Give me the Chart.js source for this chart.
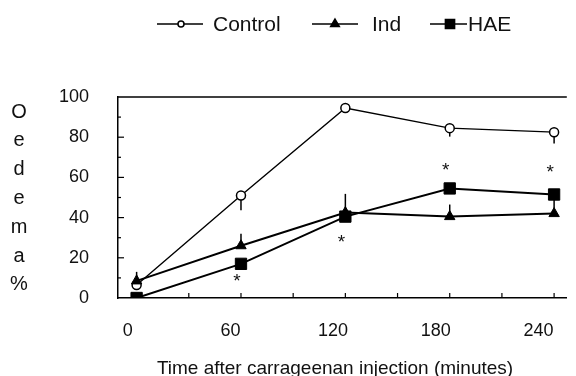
<!DOCTYPE html>
<html><head><meta charset="utf-8">
<script src="https://cdn.jsdelivr.net/npm/chart.js@4/dist/chart.umd.min.js"></script>
<style>html,body{margin:0;padding:0;background:#fff}#wrap{width:576px;height:376px}</style>
</head><body><div id="wrap"><canvas id="c" width="576" height="376"></canvas></div>
<script>
// ---- data ----
const timePoints = [0, 60, 120, 180, 240];
const xTickLabels = [0, 60, 120, 180, 240];
const xMinorTicks = [30, 60, 90, 120, 150, 180, 210, 240];
const yTickValues = [0, 20, 40, 60, 80, 100];
const yMinorTicks = [10, 20, 30, 40, 50, 60, 70, 80, 90];
const controlValues = [6.5, 51, 94.5, 84.5, 82.5];
const indValues = [8.5, 26, 42.5, 40.5, 42];
const haeValues = [0, 17, 40.5, 54.5, 51.5];
const controlErrors = [0, 7.4, 0, 4.2, 5.6];   // drawn downward
const indErrors = [4.5, 6, 9.3, 6, 0];          // drawn upward
const haeErrors = [0, 0, 0, 0, 7];              // drawn downward
const haeSignificant = [false, true, true, true, true];
const seriesNames = ['Control', 'Ind', 'HAE'];
const yTitle = 'Oedema%';
const xTitle = 'Time after carrageenan injection (minutes)';

const FONT = "'Liberation Sans', Arial, sans-serif";
const INK = '#111';

const toPts = vals => timePoints.map((t, i) => ({x: t, y: vals[i]}));

const errorBars = {
  id: 'errorBars',
  beforeDatasetsDraw(chart) {
    const ctx = chart.ctx, y = chart.scales.y;
    ctx.save();
    ctx.strokeStyle = '#000';
    ctx.lineWidth = 1.5;
    chart.data.datasets.forEach((ds, di) => {
      const meta = chart.getDatasetMeta(di);
      ds.errors.forEach((e, i) => {
        if (!e) return;
        const p = meta.data[i];
        const v = ds.data[i].y + ds.errDir * e;
        ctx.beginPath();
        ctx.moveTo(p.x, p.y);
        ctx.lineTo(p.x, y.getPixelForValue(v));
        ctx.stroke();
      });
    });
    ctx.restore();
  }
};

const sigOffsets = [0, 14, 22, -22, -26];
const asterisks = {
  id: 'asterisks',
  afterDatasetsDraw(chart) {
    const ctx = chart.ctx;
    const meta = chart.getDatasetMeta(2);
    ctx.save();
    ctx.fillStyle = INK;
    ctx.font = '19px ' + FONT;
    ctx.textAlign = 'center';
    ctx.textBaseline = 'middle';
    haeSignificant.forEach((s, i) => {
      if (!s) return;
      const p = meta.data[i];
      ctx.fillText('*', p.x - 4, p.y + sigOffsets[i] + 4);
    });
    ctx.restore();
  }
};

const frame = {
  id: 'frame',
  afterDraw(chart) {
    const ctx = chart.ctx, a = chart.chartArea, x = chart.scales.x, y = chart.scales.y;
    ctx.save();
    ctx.strokeStyle = '#000';
    ctx.lineWidth = 1.5;
    ctx.beginPath();
    ctx.moveTo(a.left, a.top);
    ctx.lineTo(a.right, a.top);
    ctx.stroke();
    ctx.lineWidth = 1.2;
    yMinorTicks.forEach(v => {
      const py = y.getPixelForValue(v);
      const len = (v % 20 === 0) ? 6 : 3;
      ctx.beginPath();
      ctx.moveTo(a.left - 1, py);
      ctx.lineTo(a.left + len, py);
      ctx.stroke();
    });
    xMinorTicks.forEach(v => {
      const px = x.getPixelForValue(v);
      ctx.beginPath();
      ctx.moveTo(px, a.bottom);
      ctx.lineTo(px, a.bottom - 5);
      ctx.stroke();
    });
    ctx.fillStyle = INK;
    // x title
    ctx.font = '19px ' + FONT;
    ctx.textAlign = 'center';
    ctx.textBaseline = 'alphabetic';
    ctx.fillText(xTitle, 335, 374);
    // stacked y title
    ctx.font = '20px ' + FONT;
    ctx.textBaseline = 'middle';
    [...yTitle].forEach((ch, i) => ctx.fillText(ch, 19, 112 + i * 28.8));
    ctx.restore();
  }
};

const legendPos = [
  {x1: 157, x2: 203, m: 181, t: 213},
  {x1: 312, x2: 358, m: 335, t: 372},
  {x1: 430, x2: 467, m: 450, t: 468}
];
const legendPlugin = {
  id: 'customLegend',
  afterDraw(chart) {
    const ctx = chart.ctx;
    const ly = 24;
    ctx.save();
    chart.data.datasets.forEach((ds, i) => {
      const L = legendPos[i];
      ctx.strokeStyle = '#000';
      ctx.lineWidth = 1.5;
      ctx.beginPath();
      ctx.moveTo(L.x1, ly); ctx.lineTo(L.x2, ly); ctx.stroke();
      ctx.fillStyle = ds.pointBackgroundColor;
      ctx.strokeStyle = '#000';
      ctx.lineWidth = 1.5;
      Chart.helpers.drawPoint(ctx, {pointStyle: ds.pointStyle, radius: ds.legendRadius, rotation: 0, borderWidth: 1.5}, L.m, ly);
      ctx.fillStyle = INK;
      ctx.font = '21px ' + FONT;
      ctx.textAlign = 'left';
      ctx.textBaseline = 'middle';
      ctx.fillText(seriesNames[i], L.t, ly + 1);
    });
    ctx.restore();
  }
};

new Chart(document.getElementById('c'), {
  type: 'line',
  data: {
    datasets: [
      {label: seriesNames[0], data: toPts(controlValues), borderColor: '#000', borderWidth: 1.4,
       pointStyle: 'circle', pointRadius: 4.5, pointBackgroundColor: '#fff', pointBorderColor: '#000', pointBorderWidth: 1.5,
       errors: controlErrors, errDir: -1, legendRadius: 3, order: 3},
      {label: seriesNames[1], data: toPts(indValues), borderColor: '#000', borderWidth: 2,
       pointStyle: 'triangle', pointRadius: 6, pointBackgroundColor: '#000', pointBorderColor: '#000', pointBorderWidth: 1,
       errors: indErrors, errDir: 1, legendRadius: 5, order: 2},
      {label: seriesNames[2], data: toPts(haeValues), borderColor: '#000', borderWidth: 2,
       pointStyle: 'rect', pointRadius: 8, pointBackgroundColor: '#000', pointBorderColor: '#000', pointBorderWidth: 1,
       errors: haeErrors, errDir: -1, legendRadius: 6.5, order: 1}
    ]
  },
  options: {
    animation: false, responsive: false, devicePixelRatio: 1,
    layout: {padding: {top: 97, left: 0, right: 0, bottom: 0}},
    plugins: {legend: {display: false}, tooltip: {enabled: false}},
    scales: {
      x: {type: 'linear', position: 'bottom', weight: 0, min: -10.7, max: 247.3,
          grid: {display: false, drawTicks: false}, border: {display: true, color: '#000', width: 1.5},
          ticks: {display: false},
          afterFit(s) { s.height = 0; }},
      x2: {type: 'linear', position: 'bottom', weight: 1, min: -5.73, max: 256.6,
           grid: {display: false, drawTicks: false}, border: {display: false},
           afterBuildTicks(s) { s.ticks = xTickLabels.map(v => ({value: v})); },
           ticks: {font: {family: FONT, size: 18}, color: INK, padding: 22, maxRotation: 0, autoSkip: false},
           title: {display: false},
           afterFit(s) { s.height = 78; }},
      y: {min: 0, max: 100,
          afterBuildTicks(s) { s.ticks = yTickValues.map(v => ({value: v})); },
          grid: {display: false, drawTicks: false}, border: {display: true, color: '#000', width: 1.5},
          ticks: {font: {family: FONT, size: 18}, color: INK, padding: 29},
          afterFit(s) { s.width = 118; }}
    }
  },
  plugins: [errorBars, asterisks, frame, legendPlugin]
});
</script></body></html>
